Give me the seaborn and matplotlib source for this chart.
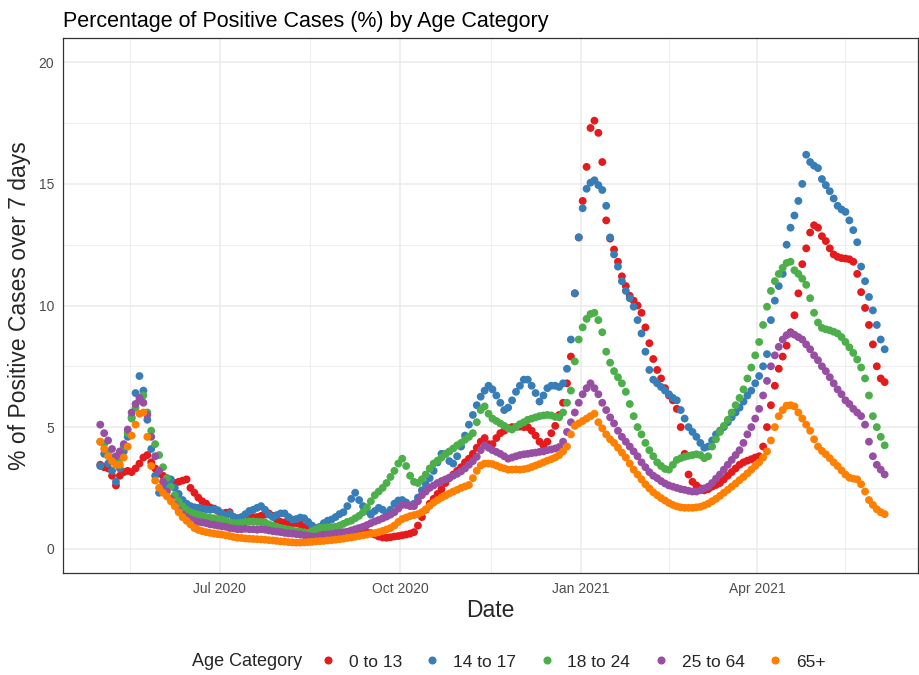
import pandas as pd
import seaborn as sns
import matplotlib
matplotlib.use('Agg')
import matplotlib.pyplot as plt
from matplotlib.lines import Line2D

# daily series sampled every second day, 2020-05-01 .. 2021-06-05
dates = pd.date_range('2020-05-01', periods=201, freq='2D')
categories = ['0 to 13', '14 to 17', '18 to 24', '25 to 64', '65+']
colors = ['#E41A1C', '#377EB8', '#4DAF4A', '#984EA3', '#FF7F00']

age_0_13 = [
    3.45, 3.35, 3.3, 3.0, 2.6, 3.0, 3.15, 3.2, 3.15, 3.3,
    3.5, 3.75, 3.85, 3.55, 3.3, 3.1, 3.0, 2.9, 2.75, 2.7,
    2.75, 2.8, 2.85, 2.5, 2.3, 2.1, 1.95, 1.85, 1.7, 1.65,
    1.55, 1.45, 1.48, 1.5, 1.3, 1.25, 1.22, 1.2, 1.25, 1.3,
    1.3, 1.35, 1.4, 1.45, 1.35, 1.2, 1.1, 1.08, 1.05, 1.05,
    1.05, 1.0, 0.9, 0.85, 0.85, 0.82, 0.8, 0.8, 0.75, 0.72,
    0.68, 0.65, 0.65, 0.68, 0.7, 0.7, 0.7, 0.68, 0.66, 0.64,
    0.58, 0.5, 0.46, 0.45, 0.47, 0.5, 0.52, 0.55, 0.58, 0.62,
    0.68, 0.95, 1.3, 1.6, 1.85, 2.05, 2.25, 2.45, 2.7, 2.9,
    3.05, 3.2, 3.35, 3.55, 3.7, 3.9, 4.15, 4.4, 4.55, 4.3,
    4.3, 4.55, 4.75, 4.85, 4.95, 5.0, 5.0, 5.02, 5.0, 5.0,
    4.85, 4.65, 4.4, 4.25, 4.4, 4.75, 5.05, 5.5, 6.0, 6.8,
    7.9, 10.5, 12.8, 14.3, 15.7, 17.3, 17.6, 17.1, 15.9, 13.5,
    12.75, 12.3, 11.8, 11.2, 10.8, 10.4, 10.2, 10.0, 9.7, 9.1,
    8.45, 7.8, 7.35, 7.0, 6.6, 6.3, 6.1, 5.75, 5.0, 3.9,
    3.05, 2.75, 2.6, 2.48, 2.4, 2.45, 2.55, 2.62, 2.7, 2.85,
    3.0, 3.15, 3.3, 3.45, 3.55, 3.62, 3.68, 3.75, 3.8, 4.2,
    5.0, 5.9, 6.7, 7.4, 7.9, 8.35, 8.9, 9.6, 10.5, 11.7,
    12.35, 13.0, 13.3, 13.2, 12.85, 12.65, 12.35, 12.1, 12.0, 11.95,
    11.93, 11.9, 11.8, 11.3, 10.55, 9.9, 9.2, 8.4, 7.5, 7.0,
    6.85]

age_14_17 = [
    3.4, 3.9, 3.5, 3.2, 2.75, 3.3, 4.0, 4.6, 5.4, 6.4,
    7.1, 6.5, 5.3, 4.1, 3.0, 2.3, 2.55, 2.75, 2.85, 2.5,
    2.25, 2.0, 1.85, 1.75, 1.7, 1.68, 1.65, 1.62, 1.6, 1.62,
    1.58, 1.45, 1.35, 1.45, 1.3, 1.25, 1.3, 1.42, 1.55, 1.6,
    1.68, 1.75, 1.6, 1.4, 1.3, 1.38, 1.45, 1.45, 1.3, 1.2,
    1.22, 1.28, 1.25, 1.1, 0.95, 0.85, 0.9, 1.05, 1.15, 1.2,
    1.3, 1.42, 1.5, 1.75, 2.05, 2.3, 2.0, 1.75, 1.55, 1.4,
    1.55, 1.68, 1.6, 1.45, 1.6, 1.85, 1.98, 2.0, 1.9, 1.78,
    1.85, 2.1, 2.4, 2.65, 2.9, 3.2, 3.55, 3.9, 3.9, 3.6,
    3.5, 3.8, 4.2, 4.65, 5.1, 5.5, 5.9, 6.25, 6.5, 6.7,
    6.55, 6.3, 6.0, 5.7, 5.8, 6.1, 6.45, 6.7, 6.95, 6.95,
    6.7, 6.4, 6.05, 6.3, 6.6, 6.7, 6.7, 6.65, 6.8, 7.4,
    8.6, 10.5, 12.8, 14.0, 14.8, 15.05, 15.15, 14.95, 14.75, 14.1,
    12.8, 12.1, 11.6, 11.0, 10.6, 10.3, 9.95, 9.4, 8.85, 8.1,
    7.35, 6.95, 6.8, 6.65, 6.5, 6.35, 6.2, 6.1, 5.7, 5.35,
    5.0, 4.8, 4.6, 4.35, 4.15, 4.2, 4.45, 4.7, 4.85, 5.0,
    5.2, 5.4, 5.6, 5.8, 6.05, 6.3, 6.5, 6.8, 7.1, 7.5,
    8.0, 9.4, 10.2, 10.8, 11.3, 12.5, 13.2, 13.7, 14.3, 15.0,
    16.2, 15.9, 15.75, 15.65, 15.2, 14.95, 14.7, 14.4, 14.1, 13.95,
    13.85, 13.5, 13.1, 12.6, 11.6, 11.0, 10.35, 9.8, 9.2, 8.6,
    8.2]

age_18_24 = [
    4.4, 4.3, 4.0, 3.75, 3.55, 3.7, 4.2, 4.75, 5.35, 5.8,
    6.1, 6.3, 5.6, 4.85, 4.3, 3.85, 3.35, 2.9, 2.55, 2.2,
    1.95, 1.75, 1.6, 1.5, 1.45, 1.4, 1.35, 1.3, 1.27, 1.25,
    1.22, 1.2, 1.15, 1.08, 1.05, 1.05, 1.07, 1.1, 1.12, 1.12,
    1.1, 1.1, 1.08, 1.0, 0.95, 0.9, 0.85, 0.82, 0.78, 0.75,
    0.72, 0.7, 0.67, 0.65, 0.72, 0.8, 0.85, 0.87, 0.88, 0.88,
    0.9, 0.95, 1.02, 1.1, 1.15, 1.25, 1.35, 1.5, 1.7, 1.95,
    2.2, 2.35, 2.5, 2.7, 2.95, 3.2, 3.5, 3.7, 3.4, 3.0,
    2.75, 2.7, 2.85, 3.05, 3.3, 3.5, 3.62, 3.75, 3.88, 4.0,
    4.12, 4.25, 4.35, 4.48, 4.6, 4.75, 5.2, 5.7, 5.85, 5.55,
    5.35, 5.25, 5.15, 5.05, 4.95, 4.9, 5.0, 5.12, 5.2, 5.3,
    5.35, 5.4, 5.45, 5.48, 5.5, 5.48, 5.42, 5.4, 5.6, 6.0,
    6.5, 7.7, 8.6, 9.1, 9.45, 9.65, 9.7, 9.4, 8.9, 8.1,
    7.65, 7.3, 7.05, 6.8, 6.45, 5.95, 5.45, 5.0, 4.7, 4.35,
    4.05, 3.8, 3.55, 3.4, 3.28, 3.25, 3.45, 3.65, 3.72, 3.78,
    3.82, 3.85, 3.88, 3.85, 3.72, 3.8, 4.2, 4.5, 4.8, 5.05,
    5.3, 5.6, 5.9, 6.2, 6.55, 7.0, 7.45, 7.95, 8.5, 9.2,
    9.95, 10.6, 11.0, 11.3, 11.55, 11.75, 11.8, 11.45, 11.3, 11.1,
    10.85, 10.3, 9.7, 9.3, 9.08, 9.02, 8.98, 8.92, 8.85, 8.7,
    8.5, 8.28, 8.05, 7.78, 7.45, 7.0, 6.3, 5.45, 5.0, 4.6,
    4.25]

age_25_64 = [
    5.1, 4.75, 4.45, 4.1, 3.8, 4.0, 4.3, 4.9, 5.6, 5.95,
    6.2, 6.0, 5.5, 4.6, 3.8, 3.2, 2.75, 2.35, 2.05, 1.8,
    1.55, 1.4, 1.3, 1.2, 1.15, 1.1, 1.08, 1.05, 1.0, 0.98,
    0.95, 0.92, 0.9, 0.85, 0.83, 0.8, 0.8, 0.82, 0.8, 0.8,
    0.78, 0.8, 0.78, 0.75, 0.72, 0.7, 0.68, 0.65, 0.63, 0.62,
    0.6, 0.58, 0.55, 0.52, 0.5, 0.5, 0.52, 0.55, 0.58, 0.6,
    0.63, 0.65, 0.68, 0.7, 0.75, 0.8, 0.85, 0.9, 0.97, 1.05,
    1.12, 1.18, 1.25, 1.32, 1.4, 1.5, 1.65, 1.8, 1.8, 1.75,
    1.75, 1.95, 2.2, 2.35, 2.5, 2.6, 2.7, 2.78, 2.85, 2.92,
    3.0, 3.08, 3.18, 3.3, 3.45, 3.6, 3.78, 4.05, 4.25, 4.15,
    4.05, 3.98, 3.9, 3.8, 3.7, 3.75, 3.8, 3.85, 3.88, 3.9,
    3.93, 3.95, 3.98, 4.0, 4.05, 4.08, 4.12, 4.18, 4.4, 4.8,
    5.2, 5.6, 6.0, 6.35, 6.6, 6.8, 6.6, 6.35, 6.0, 5.7,
    5.4, 5.15, 4.85, 4.6, 4.4, 4.2, 4.0, 3.8, 3.55, 3.35,
    3.15, 3.0, 2.9, 2.78, 2.68, 2.6, 2.55, 2.5, 2.45, 2.42,
    2.38, 2.35, 2.35, 2.4, 2.48, 2.55, 2.7, 2.88, 3.05, 3.25,
    3.45, 3.65, 3.85, 4.05, 4.35, 4.7, 5.0, 5.35, 5.75, 6.3,
    6.9, 7.5, 7.95, 8.3, 8.6, 8.78, 8.85, 8.8, 8.7, 8.6,
    8.4, 8.2, 7.95, 7.75, 7.5, 7.3, 7.05, 6.8, 6.55, 6.35,
    6.1, 5.95, 5.75, 5.6, 5.45, 5.1, 4.4, 3.8, 3.45, 3.25,
    3.05]

age_65_plus = [
    4.4, 4.1, 3.8, 3.6, 3.45, 3.45, 3.75, 4.2, 4.65, 5.1,
    5.55, 5.6, 4.6, 3.4, 2.8, 2.5, 2.3, 2.15, 1.95, 1.75,
    1.5, 1.3, 1.15, 1.0, 0.85, 0.77, 0.72, 0.68, 0.65, 0.62,
    0.6, 0.58, 0.55, 0.52, 0.48, 0.45, 0.44, 0.42, 0.41, 0.4,
    0.39, 0.38, 0.37, 0.35, 0.34, 0.32, 0.3, 0.29, 0.27, 0.26,
    0.25, 0.25, 0.26, 0.27, 0.28, 0.3, 0.31, 0.32, 0.34, 0.35,
    0.37, 0.39, 0.41, 0.44, 0.46, 0.49, 0.52, 0.55, 0.58, 0.61,
    0.64, 0.68, 0.73, 0.79, 0.85, 0.95, 1.1, 1.22, 1.28, 1.34,
    1.38, 1.42, 1.5, 1.62, 1.76, 1.9, 2.0, 2.1, 2.18, 2.27,
    2.35, 2.42, 2.5, 2.56, 2.62, 2.9, 3.2, 3.42, 3.5, 3.5,
    3.48, 3.42, 3.35, 3.3, 3.25, 3.25, 3.26, 3.25, 3.27, 3.3,
    3.36, 3.42, 3.48, 3.55, 3.62, 3.68, 3.75, 3.85, 4.0, 4.2,
    4.7, 5.05, 5.15, 5.25, 5.35, 5.45, 5.55, 5.2, 4.95, 4.7,
    4.5, 4.35, 4.15, 3.95, 3.75, 3.5, 3.25, 3.05, 2.85, 2.65,
    2.48, 2.32, 2.2, 2.08, 1.98, 1.88, 1.8, 1.74, 1.7, 1.68,
    1.68, 1.68, 1.7, 1.72, 1.78, 1.85, 1.95, 2.05, 2.17, 2.3,
    2.42, 2.55, 2.68, 2.82, 2.95, 3.1, 3.25, 3.4, 3.55, 3.75,
    4.0, 4.45, 5.0, 5.45, 5.7, 5.88, 5.9, 5.85, 5.6, 5.35,
    5.1, 4.85, 4.5, 4.2, 4.02, 3.88, 3.72, 3.55, 3.4, 3.22,
    3.05, 2.92, 2.88, 2.85, 2.65, 2.35, 2.0, 1.8, 1.62, 1.5,
    1.42]

tick_dates = ['2020-07-01', '2020-10-01', '2021-01-01', '2021-04-01']
tick_labels = ['Jul 2020', 'Oct 2020', 'Jan 2021', 'Apr 2021']
minor_dates = ['2020-05-16', '2020-08-16', '2020-11-16', '2021-02-15', '2021-05-16']

frames = []
for cat, vals in zip(categories, [age_0_13, age_14_17, age_18_24, age_25_64, age_65_plus]):
    frames.append(pd.DataFrame({'Date': dates, 'pct': vals, 'age': cat}))
df = pd.concat(frames, ignore_index=True)

sns.set_style('white')
plt.rcParams['font.family'] = ['Liberation Sans', 'DejaVu Sans']

fig = plt.figure(figsize=(9.2, 6.75), dpi=100)
ax = fig.add_axes([63 / 920, 1 - 573 / 675, 855 / 920, 535 / 675])

sns.scatterplot(data=df, x='Date', y='pct', hue='age', hue_order=categories,
                palette=colors, s=32, linewidth=0, alpha=1, legend=False, ax=ax, zorder=3)

ax.set_xlim(pd.Timestamp('2020-04-12'), pd.Timestamp('2021-06-22'))
ax.set_ylim(-1, 21)
ax.set_xticks(pd.to_datetime(tick_dates))
ax.set_xticklabels(tick_labels)
ax.set_xticks(pd.to_datetime(minor_dates), minor=True)
ax.set_yticks([0, 5, 10, 15, 20])
ax.set_yticks([2.5, 7.5, 12.5, 17.5], minor=True)

ax.grid(which='major', color='#EBEBEB', linewidth=1.1, zorder=0)
ax.grid(which='minor', color='#EBEBEB', linewidth=0.6, zorder=0)
ax.set_axisbelow(True)
for sp in ax.spines.values():
    sp.set_color('#333333')
    sp.set_linewidth(0.9)
ax.tick_params(which='major', length=3.5, width=0.8, color='#333333',
               labelcolor='#4D4D4D', labelsize=10, pad=3)
ax.tick_params(which='minor', length=0)

ax.set_title('Percentage of Positive Cases (%) by Age Category', loc='left',
             fontsize=15.5, pad=8, color='black')
ax.set_xlabel('Date', fontsize=16.5, labelpad=2)
ax.set_ylabel('% of Positive Cases over 7 days', fontsize=16.5, labelpad=5)

# legend along the bottom
fig.text(192 / 920, 1 - 662 / 675, 'Age Category', ha='left', va='center', fontsize=13)
handles = [Line2D([], [], marker='o', linestyle='', color=c, markersize=4.8) for c in colors]
fig.legend(handles, categories, ncol=5, loc='center left',
           bbox_to_anchor=(321 / 920, 1 - 662 / 675), frameon=False,
           fontsize=12.5, handlelength=0.8, handletextpad=0.8, columnspacing=1.35,
           borderpad=0, borderaxespad=0)

fig.savefig('out.png', dpi=100)
